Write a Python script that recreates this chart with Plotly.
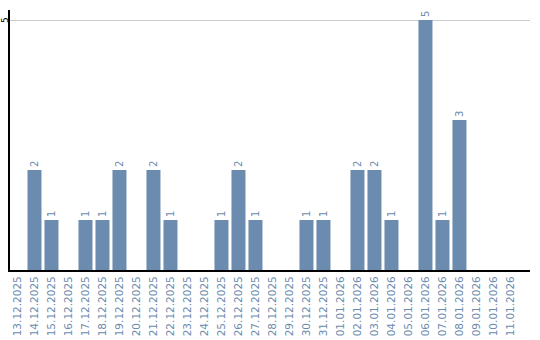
import plotly.graph_objects as go

dates = ["13.12.2025", "14.12.2025", "15.12.2025", "16.12.2025", "17.12.2025",
         "18.12.2025", "19.12.2025", "20.12.2025", "21.12.2025", "22.12.2025",
         "23.12.2025", "24.12.2025", "25.12.2025", "26.12.2025", "27.12.2025",
         "28.12.2025", "29.12.2025", "30.12.2025", "31.12.2025", "01.01.2026",
         "02.01.2026", "03.01.2026", "04.01.2026", "05.01.2026", "06.01.2026",
         "07.01.2026", "08.01.2026", "09.01.2026", "10.01.2026", "11.01.2026"]
counts = [0, 2, 1, 0, 1, 1, 2, 0, 2, 1,
          0, 0, 1, 2, 1, 0, 0, 1, 1, 0,
          2, 2, 1, 0, 5, 1, 3, 0, 0, 0]
y_ticks = [5]

bar_color = "#6b8cae"
labels = [str(v) if v else "" for v in counts]

fig = go.Figure(go.Bar(
    x=list(range(len(dates))), y=counts, text=labels,
    textposition="outside", textangle=-90, cliponaxis=False,
    textfont=dict(family="DejaVu Sans", size=10, color=bar_color),
    marker=dict(color=bar_color, line=dict(width=0)),
    width=14 / 17,
))

for t in y_ticks:
    fig.add_annotation(
        x=0, xref="paper", y=t, yref="y", text=str(t), showarrow=False,
        textangle=-90, xanchor="center", yanchor="middle", xshift=-5,
        font=dict(family="DejaVu Sans", size=9, color="black"),
    )

fig.update_layout(
    width=540, height=340,
    margin=dict(l=10, r=10, t=10, b=70),
    paper_bgcolor="white", plot_bgcolor="white",
    showlegend=False,
    font=dict(family="DejaVu Sans"),
)
fig.update_xaxes(
    range=[-0.44, 30.15], automargin=False,
    tickmode="array", tickvals=list(range(len(dates))), ticktext=dates,
    tickangle=-90, tickfont=dict(size=10.5, color=bar_color),
    showline=True, linecolor="black", linewidth=2,
    showgrid=False, ticks="", zeroline=False,
)
fig.update_yaxes(
    range=[0, 5.2], automargin=False,
    tickmode="array", tickvals=y_ticks, showticklabels=False,
    showline=True, linecolor="black", linewidth=2,
    showgrid=True, gridcolor="#cccccc", gridwidth=1,
    ticks="", zeroline=False,
)

fig.write_html("out.html")
